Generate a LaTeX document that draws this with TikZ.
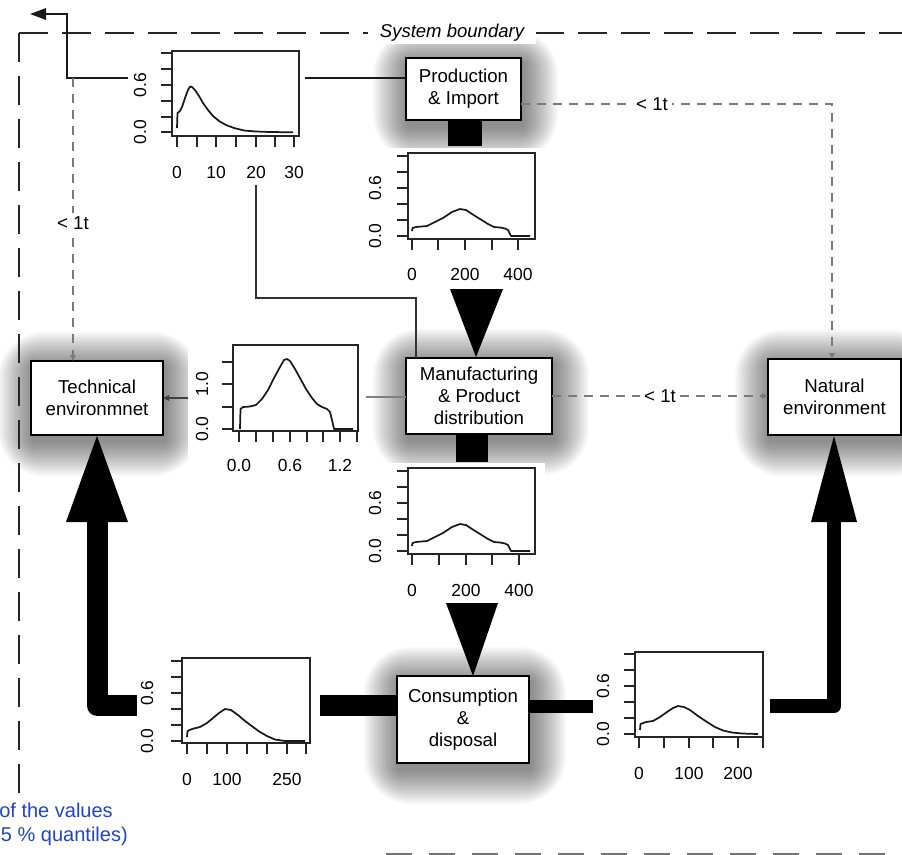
\documentclass[tikz,border=0pt]{standalone}
\usepackage{fontspec}
\setmainfont{Liberation Sans}
\usetikzlibrary{arrows.meta,calc}
\definecolor{dashgray}{HTML}{7A7A7A}
\definecolor{noteblue}{HTML}{2244CC}
\pgfdeclarelayer{bg}
\pgfsetlayers{bg,main}
\newcommand\glowrect[4]{%
  \foreach \i in {1,...,22}{%
    \fill[black, opacity=0.022, rounded corners={1.6pt*\i}]
      ({#1-1.6*\i+2},{#2-1.6*\i+6}) rectangle ({#3+1.6*\i+2},{#4+1.6*\i+6});
  }}
\tikzset{
  box/.style={draw=black, fill=white, line width=1.3pt, inner sep=0pt, outer sep=0pt,
    align=center, font=\fontsize{14}{16.5}\selectfont},
  plotframe/.style={draw=black!85, line width=0.8pt},
  plottick/.style={draw=black!85, line width=0.8pt},
  curve/.style={draw=black!90, line width=1.3pt, line join=round},
  ylab/.style={rotate=90, inner sep=0pt, font=\fontsize{13.1}{14}\selectfont},
  xlab/.style={inner sep=0pt, font=\fontsize{13.1}{14}\selectfont},
  flowlbl/.style={fill=white, inner sep=3pt, font=\fontsize{14}{15}\selectfont},
  lessdash/.style={draw=dashgray, line width=1.1pt, dash pattern=on 6.75pt off 5.25pt},
  smalltip/.style={-{Triangle[length=4.5pt,width=4pt]}},
  bound/.style={draw=black!85, line width=1.5pt, dash pattern=on 21.75pt off 10.5pt},
}
\begin{document}
\begin{tikzpicture}[x=0.75pt, y=-0.75pt]
\useasboundingbox (0,0) rectangle (902,854);
\clip (0,0) rectangle (902,854);

% ---------- background: glows and plot image areas ----------
\begin{pgfonlayer}{bg}
  \fill[white] (0,0) rectangle (902,854);
  \glowrect{406}{58}{521}{120}
  \glowrect{406}{358}{552}{434}
  \glowrect{31}{361}{163}{435}
  \glowrect{768}{359}{901}{435}
  \glowrect{397}{676}{529}{763}
  \fill[white] (128,45) rectangle (305,185);
  \fill[white] (365,148) rectangle (545,287);
  \fill[white] (365,463) rectangle (545,603);
  \fill[white] (188,338) rectangle (366,478);
  \fill[white] (135,650) rectangle (320,792);
  \fill[white] (590,644) rectangle (770,786);
\end{pgfonlayer}

% ---------- boxes ----------
\node[box, minimum width=86.25pt, minimum height=46.5pt] (prod) at (463.5,89) {Production\\\& Import};
\node[box, minimum width=109.5pt, minimum height=57pt] (manu) at (479,396) {Manufacturing\\\& Product\\distribution};
\node[box, minimum width=99pt, minimum height=55.5pt] (tech) at (97,398) {Technical\\environmnet};
\node[box, minimum width=99.75pt, minimum height=57pt] (nat) at (834.5,397) {Natural\\environment};
\node[box, minimum width=99pt, minimum height=65.25pt] (cons) at (463,719.5) {Consumption\\\&\\disposal};

% ---------- system boundary ----------
\draw[bound] (19,33) -- (910,33);
\draw[bound] (19,33) -- (19,793);
\draw[draw=black!55, line width=3.75pt, dash pattern=on 19.5pt off 12.75pt] (386,855) -- (910,855);
\node[fill=white, inner xsep=9pt, inner ysep=2pt, font=\fontsize{13.9}{15}\itshape] (sysb) at (452,33) {System boundary};

% ---------- coordinates for free ends ----------
\coordinate (p1l) at (128,78);
\coordinate (p1r) at (305,78);
\coordinate (expc) at (67,14);
\coordinate (expt) at (30,14);
\coordinate (d0) at (73,78);
\coordinate (d1) at (832,104);
\coordinate (c20) at (256,185);
\coordinate (cturn) at (416,298);
\coordinate (m4r) at (366,397);
\coordinate (p4l) at (188,398);

% ---------- thin connectors ----------
\draw[line width=1.5pt, draw=black!90, -{Triangle[length=12pt,width=8.5pt]}] (p1l) -| (expc) -- (expt);
\draw[line width=1.3pt, draw=black!90] (p1r) -- (p1r -| prod.west);
\draw[line width=1.1pt, draw=black!80] (c20) |- (cturn) -- (cturn |- manu.north);
\draw[line width=1.1pt, draw=black!50] (m4r -| manu.west) -- (m4r);
\draw[line width=1.1pt, draw=black!75, smalltip] (p4l) -- (p4l -| tech.east);

\draw[lessdash, smalltip] (d0) -- (d0 |- tech.north);
\node[flowlbl] (lt1) at (73,223) {< 1t};
\draw[lessdash, smalltip] (d1 -| prod.east) -- (d1) -- (d1 |- nat.north);
\node[flowlbl] (lt2) at (652,104) {< 1t};
\draw[lessdash, smalltip] (manu.east) -- (manu.east -| nat.west);
\node[flowlbl] (lt3) at (660,396) {< 1t};

% ---------- plot 1 ----------
\draw[plotframe] (172,51) rectangle (299,136);
\foreach \t in {53,69,85,101,117,132} \draw[plottick] (161,\t) -- (172,\t);
\foreach \t in {177,197,216,236,256,275,294} \draw[plottick] (\t,136) -- (\t,147);
\node[ylab] (p1ya) at (140,132) {0.0};
\node[ylab] (p1yb) at (140,85) {0.6};
\node[xlab] (p1xa) at (177,172) {0};
\node[xlab] (p1xb) at (216,172) {10};
\node[xlab] (p1xc) at (256,172) {20};
\node[xlab] (p1xd) at (294,172) {30};
\draw[curve] plot coordinates {(177,128) (177.5,113) (180,111) (182,107) (185,98) (188,90) (190,86.5) (192,87) (195,90) (199,96) (203,103) (208,110) (213,116) (219,121) (226,125) (234,128) (244,130.5) (256,131.5) (270,132) (293,132.3)};

% ---------- plot 2 ----------
\draw[plotframe] (408,153) rectangle (535,239);
\foreach \t in {156,172,188,204,220,236} \draw[plottick] (397,\t) -- (408,\t);
\foreach \t in {412,438,465,492,518} \draw[plottick] (\t,239) -- (\t,250);
\node[ylab] (p2ya) at (375,236) {0.0};
\node[ylab] (p2yb) at (375,188) {0.6};
\node[xlab] (p2xa) at (412,274) {0};
\node[xlab] (p2xb) at (465,274) {200};
\node[xlab] (p2xc) at (518,274) {400};
\draw[curve] plot coordinates {(412,231) (412.5,228) (416,227) (427,226) (435,222) (443,218) (452,212) (460,209) (466,210) (472,214) (480,219) (488,224) (494,227) (500,227.5) (505,228.5) (508,230) (511,236) (530,236)};

% ---------- plot 3 ----------
\draw[plotframe] (408,468) rectangle (535,554);
\foreach \t in {471,487,503,519,535,551} \draw[plottick] (397,\t) -- (408,\t);
\foreach \t in {412,439,466,492,519} \draw[plottick] (\t,554) -- (\t,565);
\node[ylab] (p3ya) at (375,551) {0.0};
\node[ylab] (p3yb) at (375,503) {0.6};
\node[xlab] (p3xa) at (412,590) {0};
\node[xlab] (p3xb) at (466,590) {200};
\node[xlab] (p3xc) at (519,590) {400};
\draw[curve] plot coordinates {(412,546) (412.5,543) (416,542) (427,541) (435,537) (443,533) (452,527) (460,524) (466,525) (472,529) (480,534) (488,539) (494,542) (500,542.5) (505,543.5) (508,545) (511,551) (530,551)};

% ---------- plot 4 ----------
\draw[plotframe] (233,345) rectangle (358,431);
\foreach \t in {362,384,407,429} \draw[plottick] (222,\t) -- (233,\t);
\foreach \t in {239,256,273,290,307,323,340,357} \draw[plottick] (\t,431) -- (\t,442);
\node[ylab] (p4ya) at (202,429) {0.0};
\node[ylab] (p4yb) at (202,384) {1.0};
\node[xlab] (p4xa) at (239,465) {0.0};
\node[xlab] (p4xb) at (290,465) {0.6};
\node[xlab] (p4xc) at (340,465) {1.2};
\draw[curve] plot coordinates {(240,429) (240.5,409) (243,407) (250,406.5) (256,405) (262,399) (268,390) (274,378) (280,367) (284,360) (287,359) (290,361) (295,369) (300,378) (306,389) (312,398) (317,404) (322,407) (327,409) (330,412) (332,420) (334,429) (353,429)};

% ---------- plot 5 ----------
\draw[plotframe] (182,658) rectangle (310,743);
\foreach \t in {661,677,693,709,725,741} \draw[plottick] (171,\t) -- (182,\t);
\foreach \t in {187,207,227,247,267,287,306} \draw[plottick] (\t,743) -- (\t,754);
\node[ylab] (p5ya) at (147,741) {0.0};
\node[ylab] (p5yb) at (147,693) {0.6};
\node[xlab] (p5xa) at (187,779) {0};
\node[xlab] (p5xb) at (227,779) {100};
\node[xlab] (p5xc) at (287,779) {250};
\draw[curve] plot coordinates {(187,737) (187.5,731) (192,729) (200,727) (207,723) (213,718) (219,713) (225,709) (231,710) (238,715) (245,721) (253,727) (260,732) (267,736) (275,739.5) (285,741) (305,741)};

% ---------- plot 6 ----------
\draw[plotframe] (635,652) rectangle (763,737);
\foreach \t in {654,670,686,702,718,734} \draw[plottick] (624,\t) -- (635,\t);
\foreach \t in {639,664,689,713,738,763} \draw[plottick] (\t,737) -- (\t,748);
\node[ylab] (p6ya) at (603,734) {0.0};
\node[ylab] (p6yb) at (603,686) {0.6};
\node[xlab] (p6xa) at (639,773) {0};
\node[xlab] (p6xb) at (689,773) {100};
\node[xlab] (p6xc) at (738,773) {200};
\draw[curve] plot coordinates {(640,730) (640.5,724) (646,722) (653,721) (660,717) (667,712) (673,708) (678,706) (684,707) (690,710) (698,716) (707,722) (715,727) (723,730.5) (732,732.5) (742,733.5) (758,734)};

% ---------- heavy flows ----------
\fill[black] (448,120) rectangle (482,146);
\fill[black] (450,289) -- (503,289) -- (476,357) -- cycle;
\fill[black] (456,434) rectangle (488,462);
\fill[black] (446,603) -- (498,603) -- (473,676) -- cycle;
\fill[black] (320,695) rectangle (397,716);
\draw[line width=15.75pt, line join=round] (137,705.5) -- (97,705.5) -- (97,520);
\fill[black] (66,522) -- (128,522) -- (97,436) -- cycle;
\fill[black] (529,699.5) rectangle (593,713);
\draw[line width=10.5pt, line join=round] (770,706.25) -- (834,706.25) -- (834,520);
\fill[black] (811,522) -- (857,522) -- (834,436) -- cycle;

% ---------- note text ----------
\node[anchor=base east, inner sep=0pt, text=noteblue, font=\fontsize{15}{17}\selectfont] (note1) at (113,817) {of the values};
\node[anchor=base east, inner sep=0pt, text=noteblue, font=\fontsize{15}{17}\selectfont] (note2) at (128,841) {5 \% quantiles)};
\end{tikzpicture}
\end{document}
